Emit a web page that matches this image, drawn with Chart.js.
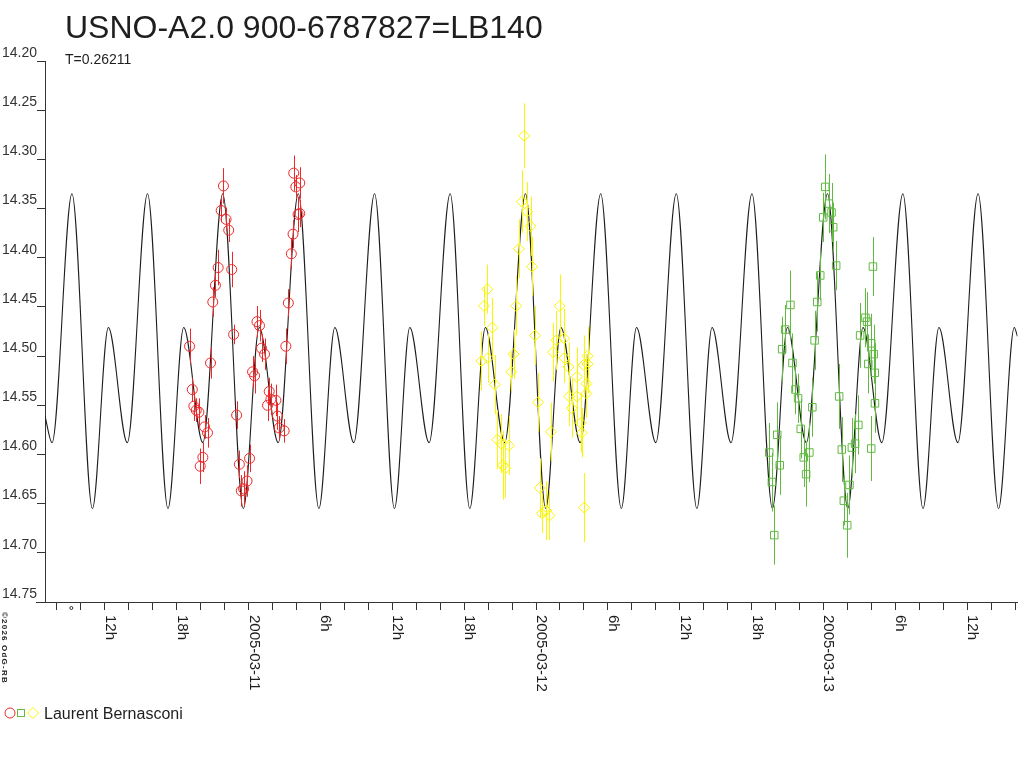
<!DOCTYPE html>
<html>
<head>
<meta charset="utf-8">
<title>USNO-A2.0 900-6787827=LB140</title>
<script src="https://cdn.jsdelivr.net/npm/chart.js@4.4.1/dist/chart.umd.min.js"></script>
<style>
  html, body { margin: 0; padding: 0; background: #fff; }
  #wrap { width: 1024px; height: 768px; }
</style>
</head>
<body>
<div id="wrap"><canvas id="lc" width="1024" height="768"></canvas></div>
<script>
// hours are counted from 2005-03-11 00:00
const titleText = 'USNO-A2.0 900-6787827=LB140';
const subtitleText = 'T=0.26211';
const observer = 'Laurent Bernasconi';
const credit = '\u00a92026 OdG-RB';
const dayLabels = ['2005-03-10', '2005-03-11', '2005-03-12', '2005-03-13'];
const epochHour = -14.8;

// fitted light curve, turning points
const modelHours = [-17, -16.41,
  -14.75, -13.04, -11.71, -10.13,
  -8.44, -6.73, -5.42, -3.82,
  -2.16, -0.44, 0.89, 2.47,
  4.15, 5.87, 7.20, 8.78,
  10.52, 12.18, 13.46, 15.07,
  16.83, 18.47, 19.77, 21.38,
  23.12, 24.81, 26.08, 27.69,
  29.40, 31.12, 32.39, 34.00,
  35.71, 37.43, 38.70, 40.28,
  42.03, 43.74, 44.99, 46.57,
  48.34, 50.03, 51.30, 52.87,
  54.63, 56.31, 57.64, 59.22,
  60.91, 62.62, 63.93, 64.2];
const modelMags = [14.561, 14.588,
  14.335, 14.655, 14.471, 14.588,
  14.335, 14.655, 14.471, 14.588,
  14.335, 14.655, 14.471, 14.588,
  14.335, 14.655, 14.471, 14.588,
  14.335, 14.655, 14.471, 14.588,
  14.335, 14.655, 14.471, 14.588,
  14.335, 14.655, 14.471, 14.588,
  14.335, 14.655, 14.471, 14.588,
  14.335, 14.655, 14.471, 14.588,
  14.335, 14.655, 14.471, 14.588,
  14.335, 14.655, 14.471, 14.588,
  14.335, 14.655, 14.471, 14.588,
  14.335, 14.655, 14.471, 14.480];

// night 1 (red circles)
const redHours = [-4.93, -4.70, -4.57, -4.37, -4.15, -3.68, -3.43, -3.82, -4.04, -3.18,
  -2.99, -2.77, -2.54, -2.10, -2.29, -1.88, -1.66, -1.41, -1.25, -1.00,
  -0.77, -0.61, -0.42, -0.13, 0.08, 0.33, 0.50, 0.70, 0.91, 1.08,
  1.33, 1.72, 1.86, 1.58, 2.28, 2.41, 2.55, 2.97, 3.11, 3.32,
  3.57, 3.71, 4.13, 3.77, 4.27, 3.94, 4.27];
const redMags = [14.490, 14.534, 14.551, 14.555, 14.557, 14.572, 14.578, 14.603, 14.612, 14.507,
  14.445, 14.428, 14.410, 14.327, 14.352, 14.361, 14.372, 14.412, 14.478, 14.560,
  14.610, 14.637, 14.635, 14.627, 14.604, 14.516, 14.520, 14.465, 14.469, 14.492,
  14.498, 14.536, 14.544, 14.550, 14.545, 14.561, 14.573, 14.576, 14.490, 14.446,
  14.396, 14.376, 14.356, 14.314, 14.324, 14.328, 14.355];
const redErrs = [0.018, 0.012, 0.015, 0.012, 0.014, 0.012, 0.015, 0.015, 0.018, 0.016,
  0.015, 0.012, 0.018, 0.018, 0.012, 0.012, 0.012, 0.018, 0.010, 0.014,
  0.014, 0.016, 0.018, 0.016, 0.014, 0.016, 0.018, 0.016, 0.016, 0.014,
  0.016, 0.014, 0.016, 0.016, 0.016, 0.014, 0.012, 0.012, 0.018, 0.014,
  0.016, 0.014, 0.018, 0.018, 0.016, 0.012, 0.014];

// night 2 (yellow diamonds)
const yellowHours = [23.01, 22.82, 23.26, 23.54, 22.57, 23.67, 19.93, 19.66, 22.34, 20.35,
  19.44, 19.99, 22.13, 21.93, 20.55, 23.92, 24.17, 20.76, 21.10, 21.74,
  21.24, 21.43, 24.31, 24.48, 24.83, 25.12, 25.25, 25.97, 25.70, 25.42,
  26.36, 26.36, 26.72, 27.41, 26.78, 27.41, 26.97, 27.74, 27.82, 27.97,
  28.30, 28.21, 28.21, 28.02, 28.30];
const yellowMags = [14.276, 14.343, 14.353, 14.368, 14.391, 14.409, 14.432, 14.449, 14.449, 14.471,
  14.505, 14.502, 14.498, 14.516, 14.529, 14.479, 14.547, 14.585, 14.589, 14.591,
  14.611, 14.614, 14.634, 14.660, 14.657, 14.662, 14.577, 14.449, 14.484, 14.496,
  14.482, 14.502, 14.511, 14.521, 14.541, 14.541, 14.553, 14.568, 14.578, 14.509,
  14.500, 14.528, 14.538, 14.654, 14.508];
const yellowErrs = [0.033, 0.032, 0.030, 0.030, 0.030, 0.030, 0.025, 0.020, 0.030, 0.030,
  0.030, 0.025, 0.025, 0.020, 0.030, 0.030, 0.030, 0.030, 0.030, 0.030,
  0.035, 0.030, 0.030, 0.020, 0.030, 0.025, 0.030, 0.032, 0.030, 0.030,
  0.030, 0.025, 0.025, 0.030, 0.030, 0.030, 0.030, 0.030, 0.025, 0.030,
  0.030, 0.030, 0.025, 0.035, 0.030];

// night 3 (green squares)
const greenHours = [43.89, 43.47, 43.69, 44.14, 44.35, 44.55, 44.80, 45.24, 45.41, 45.66,
  45.88, 46.10, 46.35, 46.55, 46.82, 47.07, 47.26, 47.48, 47.73, 47.98,
  48.15, 48.46, 48.67, 48.81, 49.06, 49.31, 49.53, 49.70, 49.98, 50.17,
  50.37, 50.64, 50.91, 51.06, 51.50, 51.64, 51.74, 51.99, 52.19, 52.28,
  52.30, 51.99, 52.13];
const greenMags = [14.682, 14.598, 14.628, 14.580, 14.611, 14.493, 14.473, 14.448, 14.507, 14.534,
  14.543, 14.574, 14.603, 14.620, 14.598, 14.552, 14.484, 14.445, 14.418, 14.359,
  14.328, 14.345, 14.354, 14.369, 14.408, 14.541, 14.595, 14.647, 14.672, 14.631,
  14.593, 14.589, 14.570, 14.479, 14.461, 14.465, 14.508, 14.487, 14.498, 14.517,
  14.548, 14.594, 14.409];
const greenErrs = [0.030, 0.030, 0.030, 0.033, 0.030, 0.033, 0.025, 0.035, 0.030, 0.025,
  0.025, 0.030, 0.030, 0.033, 0.030, 0.030, 0.030, 0.030, 0.025, 0.025,
  0.033, 0.030, 0.030, 0.025, 0.025, 0.033, 0.033, 0.025, 0.033, 0.030,
  0.030, 0.030, 0.030, 0.033, 0.030, 0.030, 0.030, 0.030, 0.030, 0.030,
  0.030, 0.033, 0.030];

const FONT = "'Liberation Sans', Arial, Helvetica, sans-serif";
const INK = '#1e1e1e';
const RED = 'rgb(238,40,40)';
const YELLOW = 'rgb(250,245,0)';
const GREEN = 'rgb(96,186,64)';

const pts = (hs, ms) => hs.map((h, i) => ({ x: h, y: ms[i] }));

function hourLabel(v) {
  if (v % 6 !== 0) return '';
  const day = Math.floor(v / 24);
  const hr = v - day * 24;
  return hr === 0 ? dayLabels[day + 1] : hr + 'h';
}

const errorSets = [
  { hours: redHours, mags: redMags, errs: redErrs, color: RED },
  { hours: yellowHours, mags: yellowMags, errs: yellowErrs, color: YELLOW },
  { hours: greenHours, mags: greenMags, errs: greenErrs, color: GREEN }
];

const decor = {
  id: 'decor',
  afterDatasetsDraw(chart) {
    const { ctx, chartArea: a, scales: { x, y } } = chart;
    ctx.save();
    ctx.beginPath();
    ctx.rect(a.left, a.top, a.right - a.left, a.bottom - a.top);
    ctx.clip();
    ctx.lineWidth = 1;
    errorSets.forEach(s => {
      ctx.strokeStyle = s.color;
      ctx.beginPath();
      s.hours.forEach((h, i) => {
        const px = Math.round(x.getPixelForValue(h)) + 0.5;
        ctx.moveTo(px, y.getPixelForValue(s.mags[i] - s.errs[i]));
        ctx.lineTo(px, y.getPixelForValue(s.mags[i] + s.errs[i]));
      });
      ctx.stroke();
    });
    ctx.restore();
  },
  afterDraw(chart) {
    const { ctx, chartArea: a, scales: { x } } = chart;
    ctx.save();
    ctx.fillStyle = INK;
    ctx.strokeStyle = '#333';
    ctx.textAlign = 'left';
    ctx.textBaseline = 'alphabetic';

    ctx.font = '32px ' + FONT;
    ctx.fillText(titleText, 65, 38);
    ctx.font = '14px ' + FONT;
    ctx.fillText(subtitleText, 65, 64);

    // x axis runs a little past the y axis
    ctx.lineWidth = 1;
    ctx.beginPath();
    ctx.moveTo(36, a.bottom + 0.5);
    ctx.lineTo(a.left, a.bottom + 0.5);
    ctx.stroke();

    // epoch mark
    ctx.beginPath();
    ctx.arc(x.getPixelForValue(epochHour), a.bottom + 6, 1.5, 0, Math.PI * 2);
    ctx.stroke();

    // rotated time labels
    ctx.font = '15px ' + FONT;
    x.ticks.forEach(t => {
      const label = hourLabel(t.value);
      if (!label) return;
      ctx.save();
      ctx.translate(x.getPixelForValue(t.value) + 1, a.bottom + 13);
      ctx.rotate(Math.PI / 2);
      ctx.fillText(label, 0, 0);
      ctx.restore();
    });

    // credit
    ctx.save();
    ctx.font = 'bold 8px ' + FONT;
    ctx.letterSpacing = '1.2px';
    ctx.translate(2, 612);
    ctx.rotate(Math.PI / 2);
    ctx.fillText(credit, 0, 0);
    ctx.restore();

    // legend
    const ly = 713;
    ctx.lineWidth = 1;
    ctx.strokeStyle = RED;
    ctx.beginPath();
    ctx.arc(10, ly, 5, 0, Math.PI * 2);
    ctx.stroke();
    ctx.strokeStyle = GREEN;
    ctx.strokeRect(17.5, ly - 3.5, 7, 7);
    ctx.strokeStyle = YELLOW;
    ctx.beginPath();
    ctx.moveTo(33, ly - 5.5);
    ctx.lineTo(38.5, ly);
    ctx.lineTo(33, ly + 5.5);
    ctx.lineTo(27.5, ly);
    ctx.closePath();
    ctx.stroke();
    ctx.fillStyle = INK;
    ctx.font = '16px ' + FONT;
    ctx.fillText(observer, 44, 719);
    ctx.restore();
  }
};

const markerSet = (data, style, color, radius) => ({
  data: data,
  pointStyle: style,
  pointRadius: radius,
  pointHoverRadius: radius,
  pointBorderWidth: 1,
  pointBorderColor: color,
  pointBackgroundColor: 'rgba(0,0,0,0)',
  showLine: false
});

new Chart(document.getElementById('lc'), {
  type: 'scatter',
  data: {
    datasets: [
      markerSet(pts(redHours, redMags), 'circle', RED, 5),
      markerSet(pts(yellowHours, yellowMags), 'rectRot', YELLOW, 5.5),
      markerSet(pts(greenHours, greenMags), 'rect', GREEN, 5.3),
      {
        data: pts(modelHours, modelMags),
        showLine: true,
        borderColor: INK,
        borderWidth: 1.1,
        pointRadius: 0,
        pointHoverRadius: 0,
        cubicInterpolationMode: 'monotone',
        fill: false
      }
    ]
  },
  options: {
    responsive: false,
    animation: false,
    devicePixelRatio: 1,
    layout: { padding: { top: 61, left: 0, right: 2, bottom: 0 } },
    plugins: {
      legend: { display: false },
      tooltip: { enabled: false }
    },
    scales: {
      x: {
        type: 'linear',
        min: -17,
        max: 64.2,
        afterFit: s => { s.height = 166; },
        ticks: { stepSize: 2, includeBounds: false, display: false },
        grid: { drawOnChartArea: false, drawTicks: true, tickLength: 8, color: '#333' },
        border: { color: '#333', width: 1 }
      },
      y: {
        type: 'linear',
        reverse: true,
        min: 14.20,
        max: 14.75,
        afterFit: s => { s.width = 45; },
        ticks: {
          stepSize: 0.05,
          padding: 0,
          labelOffset: -8,
          color: '#333',
          font: { family: FONT, size: 14 },
          callback: v => v.toFixed(2)
        },
        grid: { drawOnChartArea: false, drawTicks: true, tickLength: 8, color: '#333' },
        border: { color: '#333', width: 1 }
      }
    }
  },
  plugins: [decor]
});
</script>
</body>
</html>
